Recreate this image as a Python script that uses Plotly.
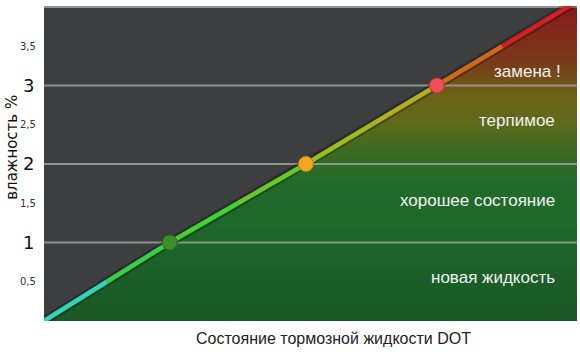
import plotly.graph_objects as go

# ---- data ----
line_x = [0, 0.48, 0.96, 1.48, 2, 2.5, 3, 3.5, 4.07]     # condition position along the line
line_y = [0, 0.5, 1, 1.5, 2, 2.5, 3, 3.5, 4.07]          # moisture, %
segment_colors = ["#2fd6b8", "#38d048", "#42d432", "#6cc82a",
                  "#9cbc22", "#b0b020", "#d06a1a", "#d42020"]
grid_levels = [1, 2, 3, 4]
point_x = [0.96, 2, 3]
point_y = [1, 2, 3]
point_colors = ["#3e8e2a", "#f5a524", "#f04e58"]
point_edges = ["#2a6a1a", "#c87a10", "#b83038"]
minor_ticks = [0.5, 1.5, 2.5, 3.5]
minor_labels = ["0,5", "1,5", "2,5", "3,5"]
major_ticks = [1, 2, 3]
major_labels = ["1", "2", "3"]
zone_names = ["новая жидкость", "хорошее состояние", "терпимое", "замена !"]
zone_y = [0.55, 1.54, 2.55, 3.18]
zone_x = [3.92, 3.92, 3.92, 3.96]

x_max = line_x[-1]
fig = go.Figure()

# filled region under the line
fig.add_trace(go.Scatter(
    x=line_x, y=line_y,
    mode="lines", line=dict(width=0), fill="tozeroy",
    fillgradient=dict(type="vertical", start=0, stop=4,
                      colorscale=[[0, "#195826"], [0.3, "#1d682a"], [0.45, "#226b2a"],
                                  [0.55, "#3f6a20"], [0.63, "#5e6a1a"], [0.72, "#6c6218"],
                                  [0.82, "#783c1a"], [1, "#8a1a1a"]]),
    hoverinfo="skip", showlegend=False))

# grid lines over the fill
for g in grid_levels:
    fig.add_trace(go.Scatter(x=[0, x_max], y=[g, g], mode="lines",
                             line=dict(color="rgba(170,172,172,0.75)", width=2),
                             hoverinfo="skip", showlegend=False))

# shadow under the line
fig.add_trace(go.Scatter(x=line_x, y=line_y, mode="lines",
                         line=dict(color="rgba(0,0,0,0.28)", width=9),
                         hoverinfo="skip", showlegend=False))
# coloured line segments
for i, c in enumerate(segment_colors):
    fig.add_trace(go.Scatter(x=line_x[i:i + 2], y=line_y[i:i + 2], mode="lines",
                             line=dict(color=c, width=4.5),
                             hoverinfo="skip", showlegend=False))

# markers
fig.add_trace(go.Scatter(x=point_x, y=point_y, mode="markers",
                         marker=dict(size=15, color=point_colors,
                                     line=dict(color=point_edges, width=1)),
                         hoverinfo="skip", showlegend=False))

annotations = []
for v, t in zip(minor_ticks, minor_labels):
    annotations.append(dict(x=0, xref="paper", y=v, yref="y", text=t, showarrow=False,
                            xanchor="right", xshift=-6,
                            font=dict(family="DejaVu Sans", size=10, color="#333333")))
for v, t in zip(major_ticks, major_labels):
    annotations.append(dict(x=0, xref="paper", y=v, yref="y", text=t, showarrow=False,
                            xanchor="right", xshift=-8,
                            font=dict(family="DejaVu Sans", size=18, color="#111111")))
for x, y, t in zip(zone_x, zone_y, zone_names):
    annotations.append(dict(x=x, y=y, text=t, showarrow=False, xanchor="right",
                            font=dict(family="Liberation Sans", size=17, color="#f2f2f2")))
annotations.append(dict(x=(12 - 44) / 533, xref="paper", y=0.55, yref="paper",
                        text="влажность %", textangle=-90, showarrow=False,
                        xanchor="center", yanchor="middle",
                        font=dict(family="DejaVu Sans", size=15, color="#111111")))
annotations.append(dict(x=(333 - 44) / 533, xref="paper", y=(321 - 338) / 314, yref="paper",
                        xanchor="center", yanchor="middle",
                        text="Состояние тормозной жидкости DOT", showarrow=False,
                        font=dict(family="Liberation Sans", size=16, color="#222222")))

fig.update_layout(
    width=580, height=359,
    margin=dict(l=44, r=3, t=6, b=38),
    paper_bgcolor="white", plot_bgcolor="#3c3e40",
    xaxis=dict(range=[0, x_max], showgrid=False, zeroline=False, showticklabels=False,
               fixedrange=True),
    yaxis=dict(range=[0, 4.012], showgrid=False, zeroline=False, showticklabels=False,
               fixedrange=True),
    annotations=annotations,
    showlegend=False,
)

fig.write_html("out.html", config={"displayModeBar": False},
               post_script="document.body.style.margin='0';document.body.style.padding='0';")
